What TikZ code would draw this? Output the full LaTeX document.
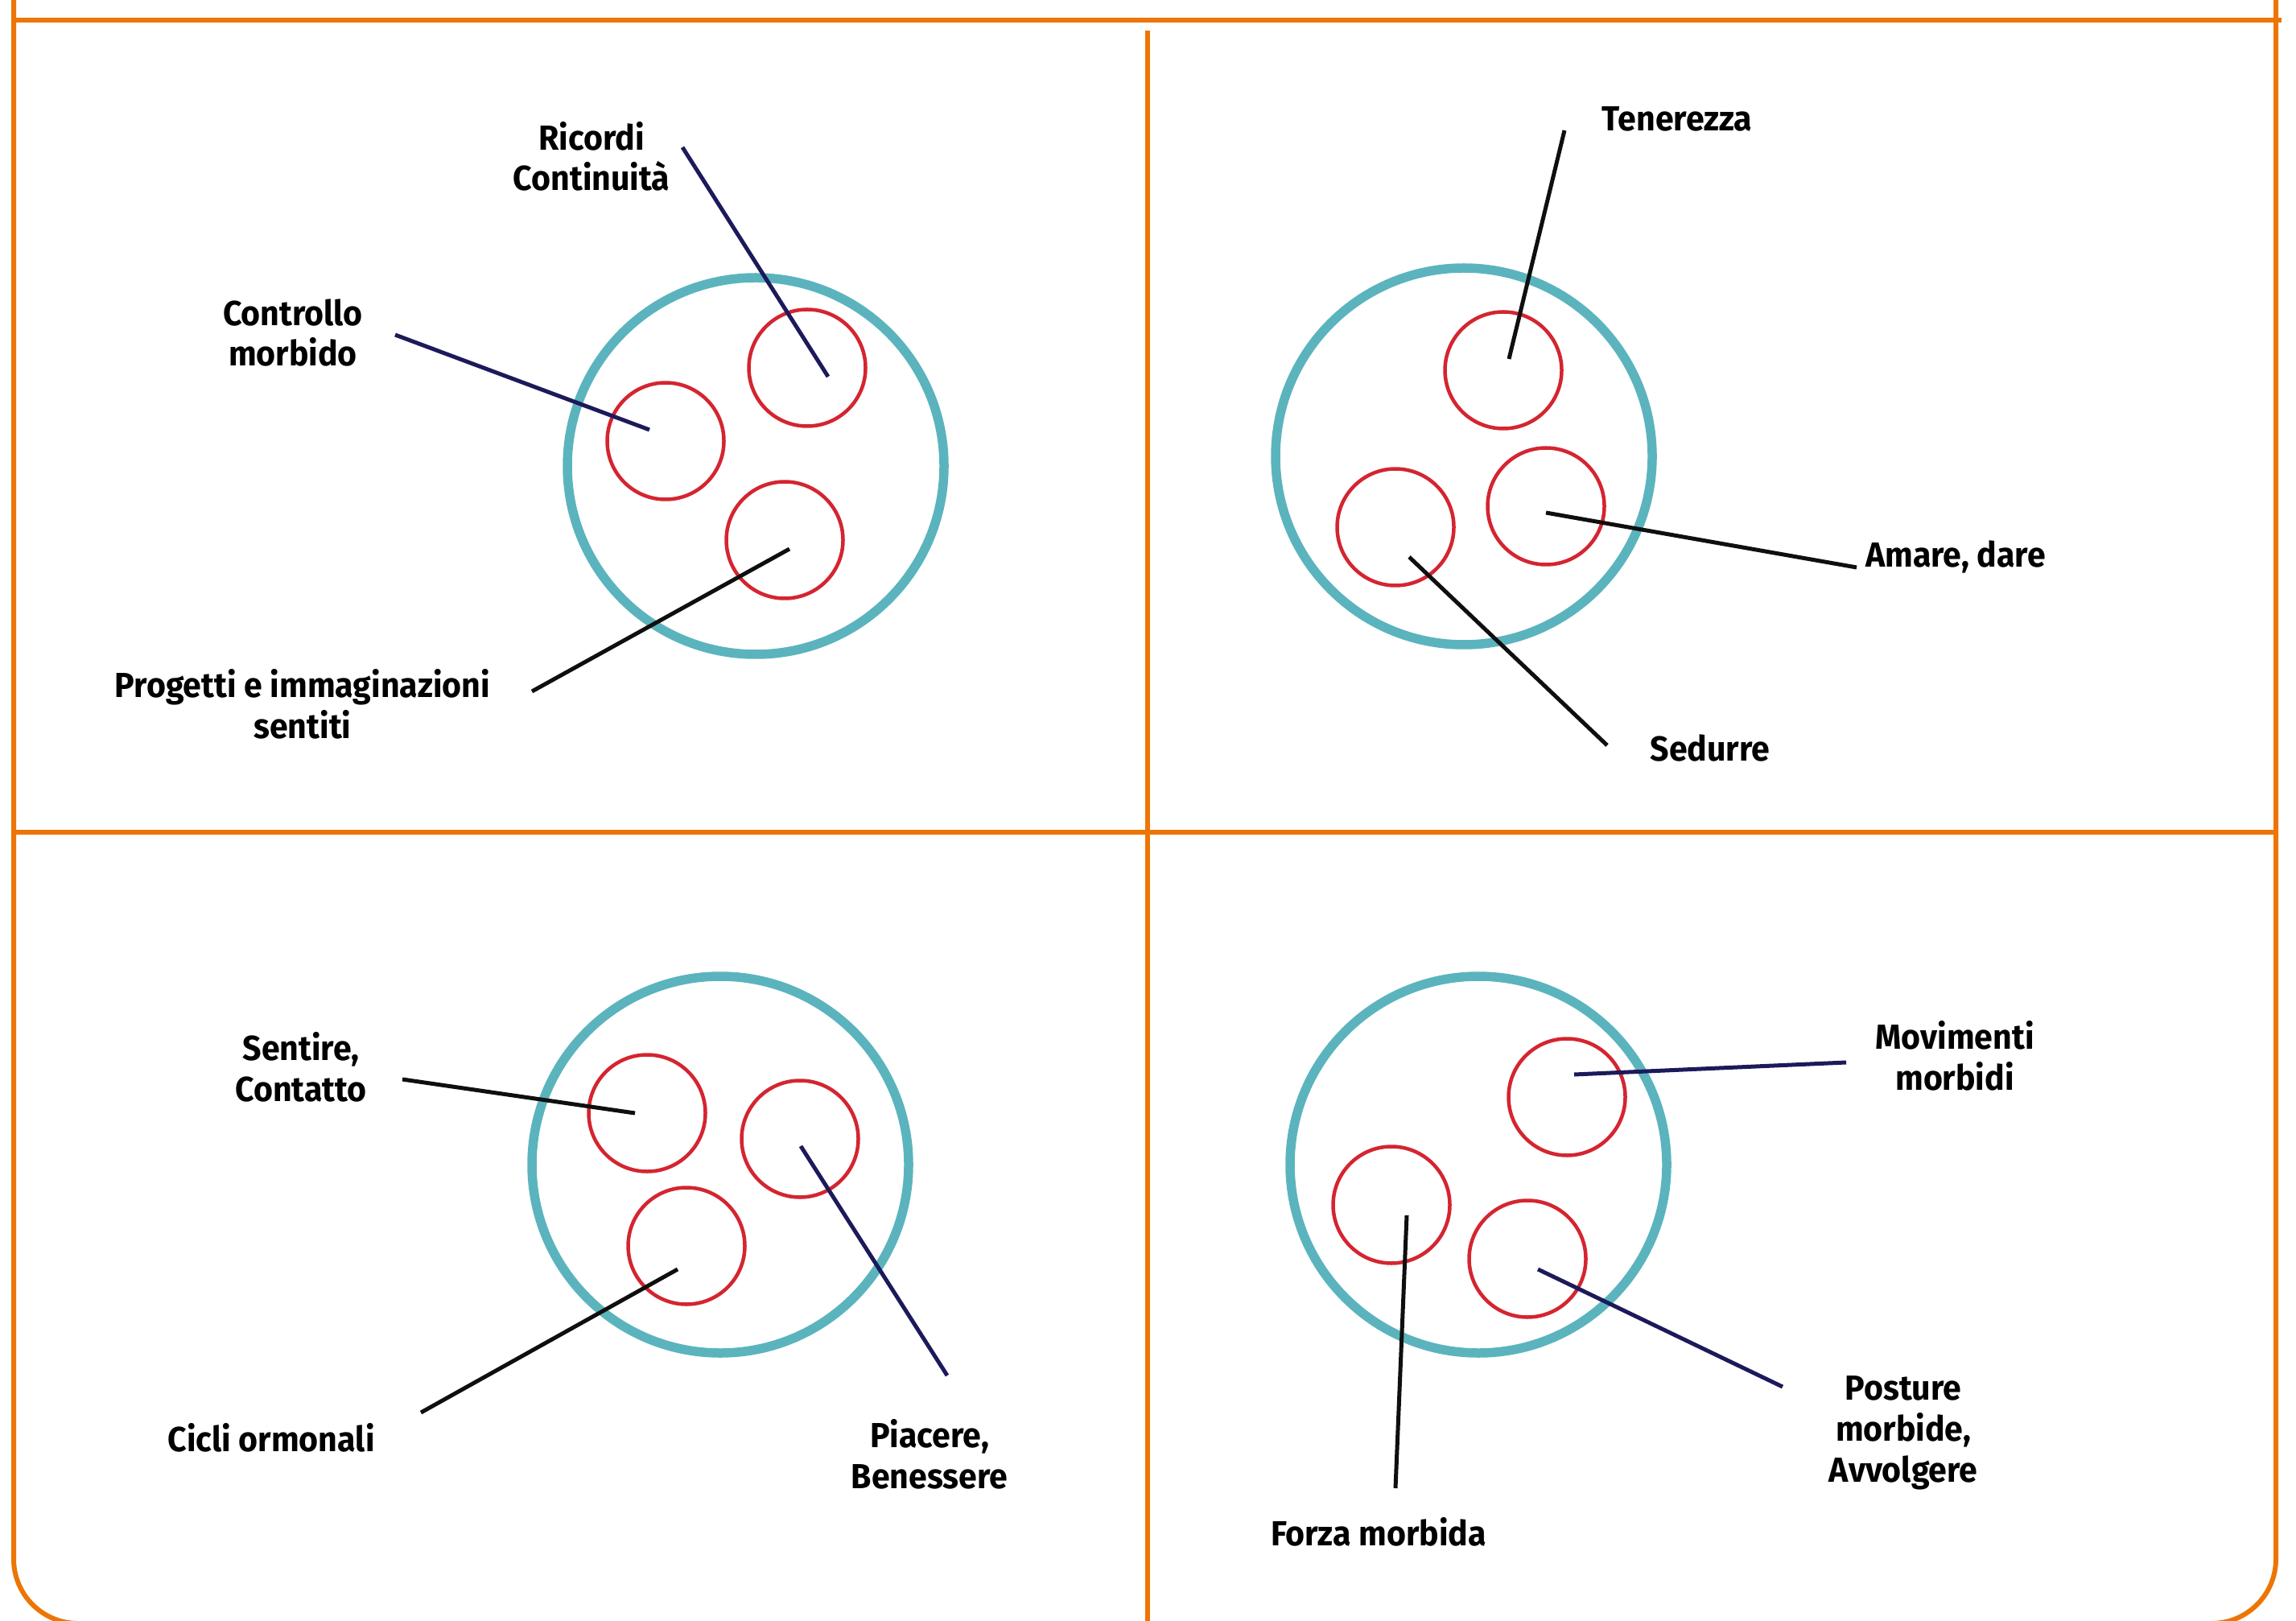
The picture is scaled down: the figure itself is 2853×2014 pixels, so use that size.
\documentclass[tikz,border=0pt]{standalone}
\usepackage{fontspec}
\setmainfont{Fira Sans}[FakeStretch=0.95]
\usepackage{xcolor}
\usepackage{tikz}
\usetikzlibrary{positioning}
\definecolor{frameorange}{RGB}{237,117,5}
\definecolor{shellteal}{RGB}{91,180,189}
\definecolor{corered}{RGB}{212,37,48}
\definecolor{linknavy}{RGB}{28,26,90}
\definecolor{linkblack}{RGB}{15,15,15}

\begin{document}
\begin{tikzpicture}[
    x=0.1mm, y=-0.1mm,
    every node/.style={font=\fontsize{12.3}{14.5}\selectfont\bfseries},
    frame/.style={
        draw=frameorange,
        line width=0.6mm
    },
    shell/.style={
        circle,
        draw=shellteal,
        line width=1.15mm,
        minimum size=46.8mm,
        inner sep=0pt
    },
    core/.style={
        circle,
        draw=corered,
        line width=0.45mm,
        minimum size=14.5mm,
        inner sep=0pt
    },
    link/.style={
        line width=0.5mm,
        draw=#1
    },
    tag/.style={
        align=center,
        anchor=base,
        inner sep=0pt
    }
]

    \useasboundingbox (0,0) rectangle (2853,2014);
    \clip (0,0) rectangle (2853,2014);

    % Frame and quadrants
    \draw[frame, rounded corners=8mm] (17,-78) rectangle (2828,2017);
    \draw[frame] (17,25) -- (2835,25);
    \draw[frame] (17,1034) -- (2828,1034);
    \draw[frame] (1426,38) -- (1426,2014);

    % Upper left
    \node[shell] (ulshell) at (939,579) {};
    \node[core] (ulmem) at (1003,457) {};
    \node[core] (ulctl) at (827,548) {};
    \node[core] (ulplan) at (975,671) {};

    % (multi-line tags sit on their last baseline)
    \node[tag] (ricordi) at (735,237) {Ricordi\\Continuità};
    \node[tag] (controllo) at (364,455) {Controllo\\morbido};
    \node[tag] (progetti) at (376,917) {Progetti e immaginazioni\\sentiti};

    \coordinate (ricordiend) at (848,183);
    \coordinate (ricordipin) at (1029,468);
    \coordinate (controlloend) at (491,416);
    \coordinate (controllopin) at (807,534);
    \coordinate (progettiend) at (661,859);
    \coordinate (progettipin) at (981,682);

    \draw[link=linknavy] (ricordiend) -- (ricordipin);
    \draw[link=linknavy] (controlloend) -- (controllopin);
    \draw[link=linkblack] (progettiend) -- (progettipin);

    % Upper right
    \node[shell] (urshell) at (1819,567) {};
    \node[core] (urtender) at (1868,460) {};
    \node[core] (urseduce) at (1734,655) {};
    \node[core] (urlove) at (1921,629) {};

    \node[tag] (tenerezza) at (2084,163) {Tenerezza};
    \node[tag] (amare) at (2430,705) {Amare, dare};
    \node[tag] (sedurre) at (2125,945) {Sedurre};

    \coordinate (tenerezzaend) at (1944,162);
    \coordinate (tenerezzapin) at (1875,446);
    \coordinate (amareend) at (2307,705);
    \coordinate (amarepin) at (1921,637);
    \coordinate (sedurreend) at (1997,926);
    \coordinate (sedurrepin) at (1751,692);

    \draw[link=linkblack] (tenerezzaend) -- (tenerezzapin);
    \draw[link=linkblack] (amareend) -- (amarepin);
    \draw[link=linkblack] (sedurreend) -- (sedurrepin);

    % Lower left
    \node[shell] (llshell) at (895,1447) {};
    \node[core] (llfeel) at (804,1383) {};
    \node[core] (llplease) at (994,1415) {};
    \node[core] (llcycle) at (853,1548) {};

    \node[tag] (sentire) at (374,1368) {Sentire,\\Contatto};
    \node[tag] (cicli) at (337,1803) {Cicli ormonali};
    \node[tag] (piacere) at (1155,1849) {Piacere,\\Benessere};

    \coordinate (sentireend) at (500,1341);
    \coordinate (sentirepin) at (789,1383);
    \coordinate (cicliend) at (523,1755);
    \coordinate (ciclipin) at (842,1577);
    \coordinate (piacereend) at (1177,1709);
    \coordinate (piacerepin) at (995,1424);

    \draw[link=linkblack] (sentireend) -- (sentirepin);
    \draw[link=linkblack] (cicliend) -- (ciclipin);
    \draw[link=linknavy] (piacereend) -- (piacerepin);

    % Lower right
    \node[shell] (lrshell) at (1837,1447) {};
    \node[core] (lrmove) at (1947,1363) {};
    \node[core] (lrforce) at (1729,1497) {};
    \node[core] (lrpose) at (1898,1564) {};

    \node[tag] (movimenti) at (2429,1354) {Movimenti\\morbidi};
    \node[tag] (posture) at (2365,1841) {Posture\\morbide,\\Avvolgere};
    \node[tag] (forza) at (1713,1920) {Forza morbida};

    \coordinate (movimentiend) at (2294,1320);
    \coordinate (movimentipin) at (1956,1335);
    \coordinate (postureend) at (2215,1723);
    \coordinate (posturepin) at (1911,1577);
    \coordinate (forzaend) at (1734,1849);
    \coordinate (forzapin) at (1748,1510);

    \draw[link=linknavy] (movimentiend) -- (movimentipin);
    \draw[link=linknavy] (postureend) -- (posturepin);
    \draw[link=linkblack] (forzaend) -- (forzapin);

\end{tikzpicture}
\end{document}
